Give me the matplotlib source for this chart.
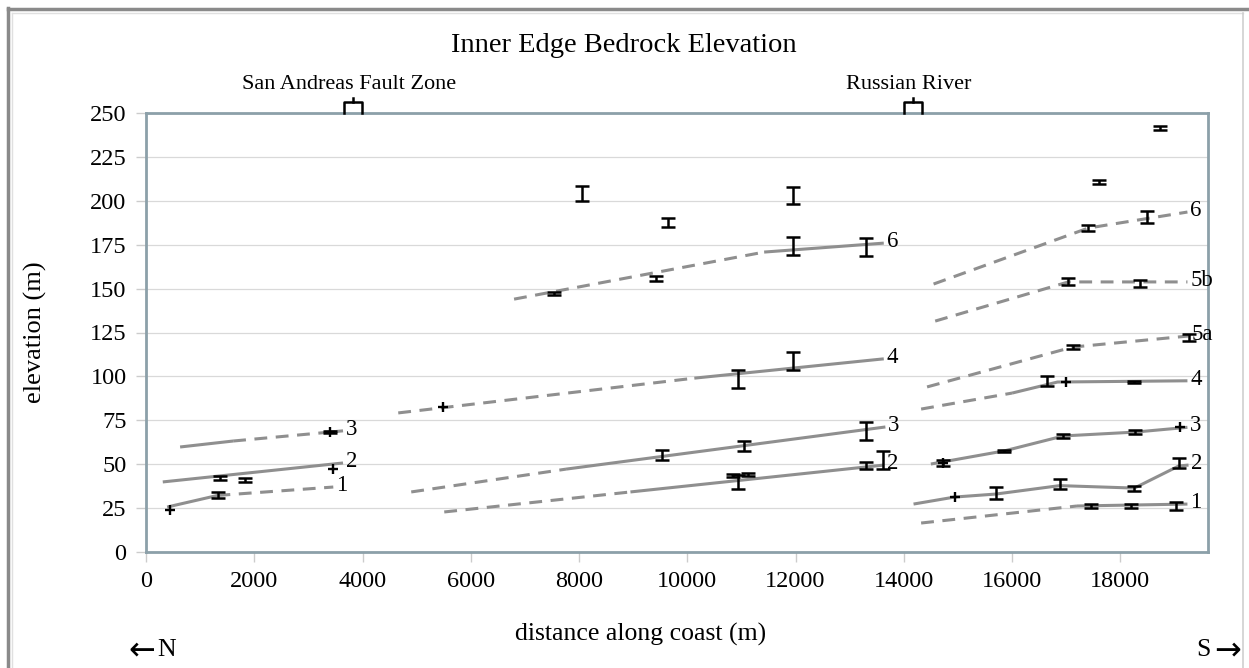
import matplotlib
matplotlib.use("Agg")
import matplotlib.pyplot as plt
from matplotlib.lines import Line2D

plt.rcParams['font.family'] = ['Liberation Serif', 'DejaVu Serif']

# terrace profiles: x (m along coast), y (elevation m), style of each segment
t1n_x = [390, 1320, 3460]
t1n_y = [25.6, 32.2, 37.0]
t1n_ls = ['-', '--']
t2n_x = [310, 3640]
t2n_y = [39.9, 50.7]
t2n_ls = ['-']
t3n_x = [630, 1610, 3400, 3640]
t3n_y = [59.8, 63.2, 68.3, 69.0]
t3n_ls = ['-', '--', '-']

t2m_x = [5510, 8950, 13630]
t2m_y = [22.8, 34.2, 49.5]
t2m_ls = ['--', '-']
t3m_x = [4900, 7760, 13660]
t3m_y = [34.2, 47.2, 71.2]
t3m_ls = ['--', '-']
t4m_x = [4660, 10130, 13630]
t4m_y = [79.2, 99.0, 110.0]
t4m_ls = ['--', '-']
t6m_x = [6800, 11420, 13630]
t6m_y = [144.0, 170.8, 175.9]
t6m_ls = ['--', '-']

t1s_x = [14320, 17200, 19240]
t1s_y = [16.5, 26.2, 27.3]
t1s_ls = ['--', '-']
t2s_x = [14180, 14940, 15700, 16880, 18260, 19080, 19260]
t2s_y = [27.3, 31.3, 33.0, 37.8, 36.4, 49.0, 49.5]
t2s_ls = ['-'] * 6
t3s_x = [14500, 15860, 16950, 18280, 19240]
t3s_y = [50.1, 57.6, 66.1, 68.3, 71.0]
t3s_ls = ['-'] * 4
t4s_x = [14320, 16000, 16840, 19240]
t4s_y = [81.4, 90.5, 96.8, 97.5]
t4s_ls = ['--', '-', '-']
t5a_x = [14430, 17120, 19260]
t5a_y = [94.0, 116.7, 123.0]
t5a_ls = ['--', '--']
t5b_x = [14580, 17040, 19240]
t5b_y = [131.5, 153.8, 153.8]
t5b_ls = ['--', '--']
t6s_x = [14550, 17410, 19240]
t6s_y = [152.6, 184.5, 193.6]
t6s_ls = ['--', '--']

profiles = [
    (t1n_x, t1n_y, t1n_ls, '1'), (t2n_x, t2n_y, t2n_ls, '2'), (t3n_x, t3n_y, t3n_ls, '3'),
    (t2m_x, t2m_y, t2m_ls, '2'), (t3m_x, t3m_y, t3m_ls, '3'), (t4m_x, t4m_y, t4m_ls, '4'),
    (t6m_x, t6m_y, t6m_ls, '6'),
    (t1s_x, t1s_y, t1s_ls, '1'), (t2s_x, t2s_y, t2s_ls, '2'), (t3s_x, t3s_y, t3s_ls, '3'),
    (t4s_x, t4s_y, t4s_ls, '4'), (t5a_x, t5a_y, t5a_ls, '5a'), (t5b_x, t5b_y, t5b_ls, '5b'),
    (t6s_x, t6s_y, t6s_ls, '6'),
]

# measured elevations with uncertainty
err_x = [1330, 1370, 1830, 3400,
         7540, 9420, 8060, 9650, 11950, 11960, 13310, 10940, 11960, 9540, 11050, 13310,
         10850, 10940, 11130, 13310, 13620,
         17410, 18500, 17600, 18740, 17040, 18360, 17130, 19260, 16650, 18260,
         14730, 15860, 16950, 18280, 15700, 16880, 18260, 19080, 17460, 18190, 19030]
err_y = [32.5, 42.1, 41.0, 68.3,
         147.3, 155.6, 204.4, 187.4, 203.0, 174.3, 173.7, 98.5, 108.7, 55.2, 60.4, 68.9,
         43.5, 39.9, 44.2, 49.0, 52.4,
         184.5, 190.8, 210.7, 241.5, 153.8, 153.0, 116.7, 122.0, 97.4, 96.8,
         50.7, 57.5, 66.1, 68.3, 33.6, 38.7, 36.4, 50.6, 26.2, 26.2, 26.2]
err_e = [1.7, 1.0, 1.0, 0.8,
         0.9, 1.3, 4.3, 2.6, 5.0, 5.0, 5.0, 5.0, 5.0, 3.0, 2.8, 5.3,
         1.0, 4.0, 1.0, 2.0, 5.0,
         1.6, 3.2, 1.0, 1.0, 2.0, 1.9, 1.0, 2.0, 2.6, 0.5,
         1.5, 0.7, 1.0, 1.2, 3.2, 2.7, 1.4, 3.0, 1.2, 1.2, 2.5]

# point elevations
plus_x = [444, 3456, 3400, 5480, 17000, 14730, 14940, 19110]
plus_y = [24.0, 47.0, 68.3, 82.6, 96.8, 50.7, 31.3, 71.2]

landmark_x = [3825, 14170]
landmark_names = ['San Andreas Fault Zone', 'Russian River']

grey = '#8f8f8f'

fig = plt.figure(figsize=(12.49, 6.68), dpi=100)
ax = fig.add_axes([146 / 1249, 1 - 552 / 668, (1208 - 146) / 1249, (552 - 113) / 668])

ax.set_xlim(0, 19620)
ax.set_ylim(0, 250)
ax.set_xticks(range(0, 19000, 2000))
ax.set_yticks(range(0, 251, 25))
ax.grid(axis='y', color='#d9d9d9', lw=0.9)
ax.set_axisbelow(True)
for s in ax.spines.values():
    s.set_color('#8ca0a9')
    s.set_linewidth(2)
ax.tick_params(direction='out', length=7, color='#cccccc', width=1,
               labelsize=17.5, pad=7)

for xs, ys, styles, name in profiles:
    # draw runs of segments with the same style as one line
    start = 0
    for i in range(1, len(styles) + 1):
        if i == len(styles) or styles[i] != styles[start]:
            ls = styles[start]
            line, = ax.plot(xs[start:i + 1], ys[start:i + 1], color=grey, lw=2.2,
                            solid_capstyle='butt', dash_capstyle='butt')
            if ls == '--':
                line.set_dashes((4.2, 2.8))
            start = i
    ax.annotate(name, xy=(xs[-1], ys[-1]), xytext=(2, 1), textcoords='offset points',
                ha='left', va='center', fontsize=16.5, annotation_clip=False)

ax.errorbar(err_x, err_y, yerr=err_e, fmt='none', ecolor='black', elinewidth=1.8,
            capsize=5, capthick=1.8, zorder=4)
ax.plot(plus_x, plus_y, '+', color='black', ms=7.5, mew=1.7, zorder=4)

for lx, name in zip(landmark_x, landmark_names):
    w = 165
    ax.plot([lx - w, lx - w, lx + w, lx + w], [250, 256, 256, 250], color='black',
            lw=1.8, clip_on=False, zorder=5)
    ax.plot([lx, lx], [256, 258.5], color='black', lw=1.8, clip_on=False, zorder=5)
    ax.text(lx - 80, 266, name, ha='center', va='center', fontsize=16)

ax.set_ylabel('elevation (m)', fontsize=19)
ax.yaxis.set_label_coords(-0.093, 0.5)
fig.text(641 / 1249, 1 - 634 / 668, 'distance along coast (m)', ha='center', va='center',
         fontsize=18.5)
fig.text(624 / 1249, 1 - 45 / 668, 'Inner Edge Bedrock Elevation', ha='center',
         va='center', fontsize=20.5)
fig.text(128 / 1249, 1 - 651 / 668, '\u2190', ha='left', va='center', fontsize=23,
         family='DejaVu Sans')
fig.text(157 / 1249, 1 - 650 / 668, 'N', ha='left', va='center', fontsize=18.5)
fig.text(1196 / 1249, 1 - 650 / 668, 'S', ha='left', va='center', fontsize=18.5)
fig.text(1241 / 1249, 1 - 651 / 668, '\u2192', ha='right', va='center', fontsize=23,
         family='DejaVu Sans')

# chart border
fig.add_artist(Line2D([8 / 1249, 8 / 1249], [0, 1 - 8 / 668], color='#8a8a8a', lw=2.5))
fig.add_artist(Line2D([8 / 1249, 1], [1 - 9 / 668, 1 - 9 / 668], color='#8a8a8a', lw=2.5))
fig.add_artist(Line2D([12 / 1249, 12 / 1249], [0, 1 - 13 / 668], color='#e0e0e0', lw=1))
fig.add_artist(Line2D([12 / 1249, 1243 / 1249], [1 - 13 / 668, 1 - 13 / 668], color='#e0e0e0', lw=1))
fig.add_artist(Line2D([1243 / 1249, 1243 / 1249], [0, 1 - 13 / 668], color='#cfcfcf', lw=1.2))

fig.savefig('out.png', dpi=100)
